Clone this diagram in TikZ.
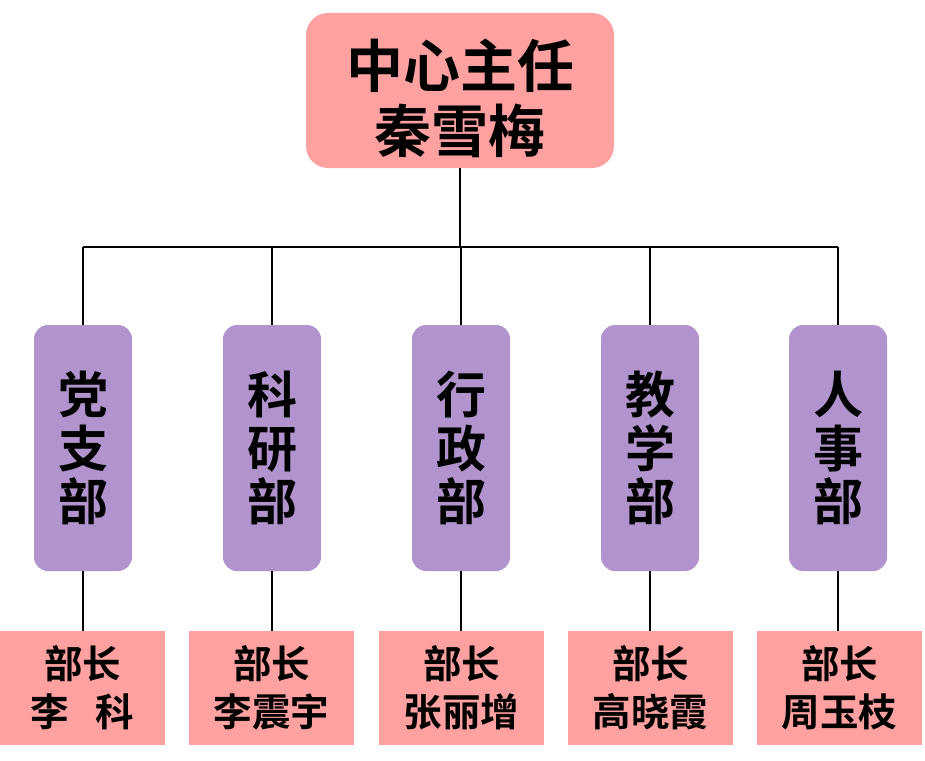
\documentclass[tikz,border=0pt]{standalone}
\usepackage{fontspec}
\newfontfamily\cjk{Noto Sans CJK SC}[BoldFont={* Bold}]
\definecolor{pinkbox}{RGB}{255,161,161}
\definecolor{purplebox}{RGB}{177,148,206}
\begin{document}
\begin{tikzpicture}[x=1pt,y=-1pt,
  topbox/.style={fill=pinkbox,draw=none,rounded corners=22pt,minimum width=308pt,minimum height=155pt,inner sep=0pt},
  toptext/.style={align=center,inner sep=0pt,font=\cjk\bfseries\fontsize{57}{65}\selectfont},
  deptbox/.style={fill=purplebox,draw=none,rounded corners=14pt,minimum width=98pt,minimum height=246pt,align=center,inner sep=0pt,font=\cjk\bfseries\fontsize{50}{53.5}\selectfont},
  headbox/.style={fill=pinkbox,draw=none,minimum width=165pt,minimum height=114pt,align=center,inner sep=0pt,font=\cjk\bfseries\fontsize{38.5}{48}\selectfont},
  link/.style={draw=black,line width=1.8pt}]
\useasboundingbox (0,0) rectangle (925,760);
\node[topbox] (top) at (460,90.5) {};
\node[toptext] (toplabel) at (460,98) {中心主任\\秦雪梅};
\coordinate (barL) at (83,247);
\coordinate (barR) at (838,247);
\node[deptbox] (d1) at (83,448) {党\\支\\部};
\node[deptbox] (d2) at (272,448) {科\\研\\部};
\node[deptbox] (d3) at (461,448) {行\\政\\部};
\node[deptbox] (d4) at (650,448) {教\\学\\部};
\node[deptbox] (d5) at (838,448) {人\\事\\部};
\node[headbox] (h1) at (82.5,688) {部长\\李\hspace{0.7em}科};
\node[headbox] (h2) at (271.5,688) {部长\\李震宇};
\node[headbox] (h3) at (461.5,688) {部长\\张丽增};
\node[headbox] (h4) at (650.5,688) {部长\\高晓霞};
\node[headbox] (h5) at (839.5,688) {部长\\周玉枝};
\draw[link] (top.south) -- (top.south |- barL);
\draw[link] (barL) -- (barR);
\foreach \i in {1,...,5}{
  \draw[link] (d\i.north) -- (d\i.north |- barL);
  \draw[link] (d\i.south) -- (h\i.north -| d\i.south);
}
\end{tikzpicture}
\end{document}
